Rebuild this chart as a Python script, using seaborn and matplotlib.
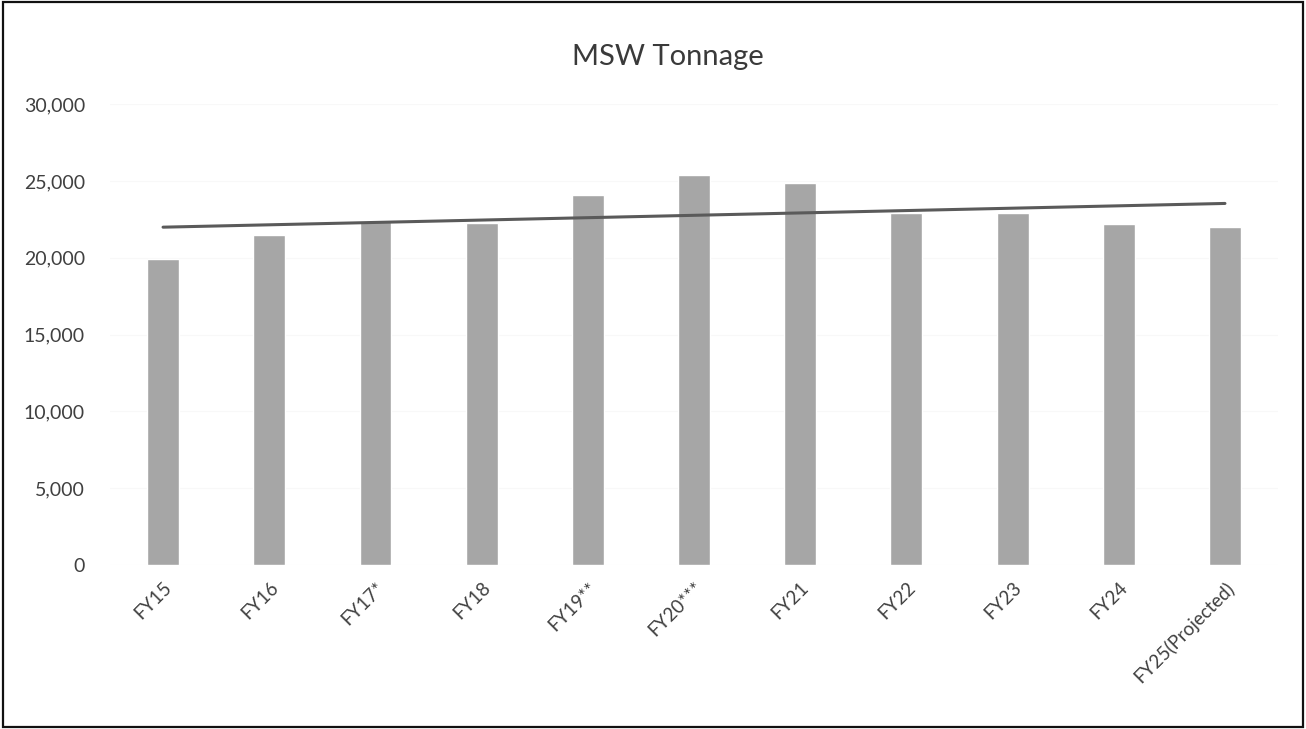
import numpy as np
import pandas as pd
import seaborn as sns
import matplotlib
matplotlib.use("Agg")
import matplotlib.pyplot as plt
from matplotlib.patches import Rectangle
from matplotlib.ticker import StrMethodFormatter

# Fiscal-year municipal solid waste tonnage
years = ["FY15", "FY16", "FY17*", "FY18", "FY19**", "FY20***",
         "FY21", "FY22", "FY23", "FY24", "FY25(Projected)"]
tons = [19900, 21500, 22400, 22250, 24100, 25400,
        24850, 22900, 22950, 22200, 22000]
y_ticks = [0, 5000, 10000, 15000, 20000, 25000, 30000]
title = "MSW Tonnage"

sns.set_theme(style="white")
plt.rcParams["font.family"] = ["Lato", "DejaVu Sans"]

df = pd.DataFrame({"year": years, "tons": tons, "idx": np.arange(len(years))})

fig = plt.figure(figsize=(13.06, 7.29), dpi=100)
ax = fig.add_axes([0.0842, 0.225, 0.8944, 0.632])

sns.barplot(data=df, x="year", y="tons", color="#a6a6a6", saturation=1,
            width=0.3, ax=ax)

# Linear trend line across all years
sns.regplot(data=df, x="idx", y="tons", scatter=False, ci=None, truncate=True,
            line_kws={"color": "#5a5a5a", "linewidth": 2.2}, ax=ax)

ax.set_xlim(-0.5, len(years) - 0.5)
ax.set_ylim(0, 30000)
ax.set_yticks(y_ticks)
ax.yaxis.set_major_formatter(StrMethodFormatter("{x:,.0f}"))
ax.set_xticks(np.arange(len(years)))
ax.set_xticklabels(years, rotation=45, ha="right", rotation_mode="anchor")
ax.tick_params(axis="x", length=0, pad=10, labelsize=13.5, labelcolor="#404040")
ax.tick_params(axis="y", length=0, pad=18, labelsize=14, labelcolor="#404040")
ax.grid(axis="y", color="#f8f8f8", linewidth=0.8)
ax.set_axisbelow(True)
ax.set_xlabel("")
ax.set_ylabel("")
for s in ax.spines.values():
    s.set_visible(False)

fig.text(0.5115, 0.922, title, ha="center", va="center", fontsize=21,
         color="#3a3a3a")

# Outer frame around the chart
fig.patches.append(Rectangle((0.0025, 0.003), 0.995, 0.994, transform=fig.transFigure,
                             fill=False, edgecolor="#111111", linewidth=1.6))

fig.savefig("out.png", dpi=100)
